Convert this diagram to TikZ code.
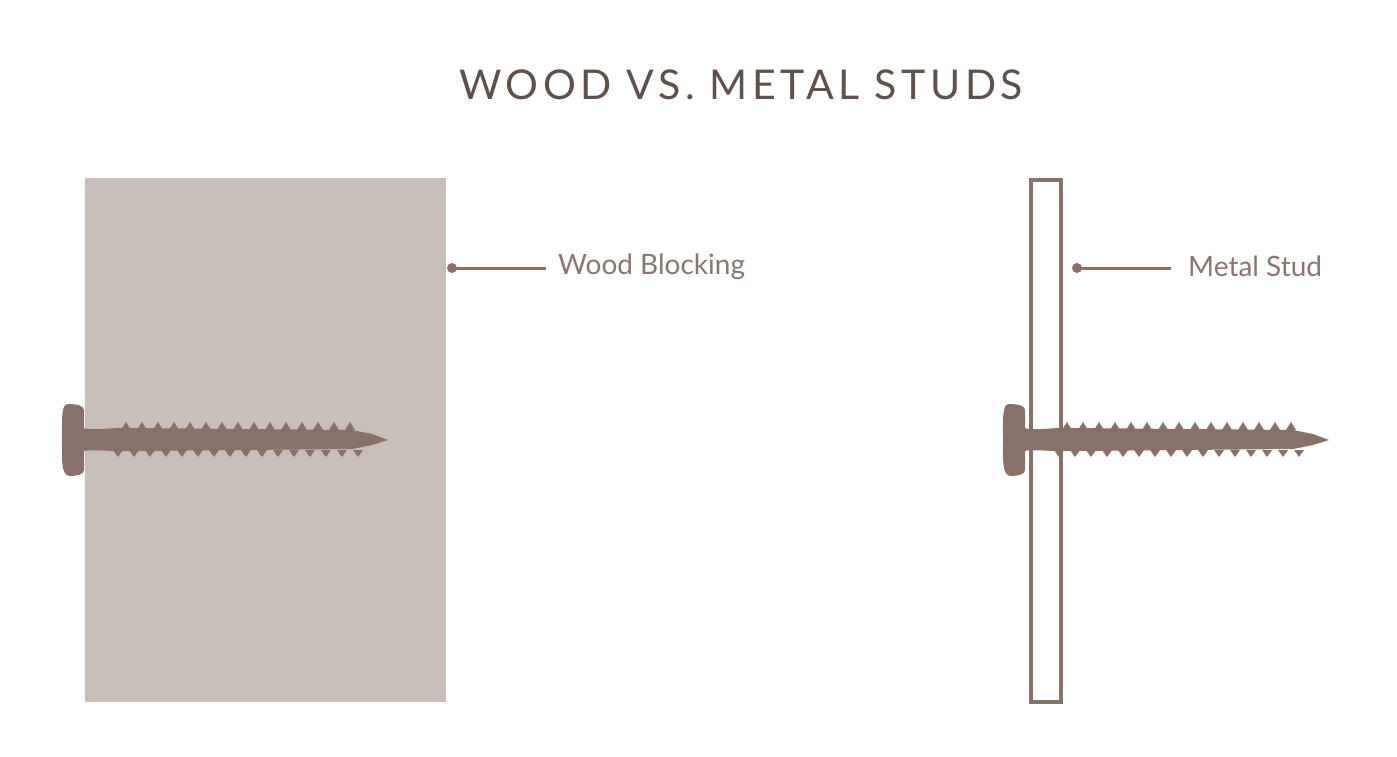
\documentclass[tikz,border=0pt]{standalone}
\usepackage{fontspec}
\setmainfont{Lato}
\definecolor{wood}{HTML}{C7BEB9}
\definecolor{scr}{HTML}{877169}
\definecolor{ttl}{HTML}{5E504A}
\definecolor{lbl}{HTML}{8A7670}
\tikzset{
  lead/.style={draw=scr,line width=3pt},
  lbltext/.style={anchor=west,text=lbl,font=\fontsize{28}{31}\selectfont,inner sep=0pt},
  screw/.pic={
    \fill[scr] (6,-36) .. controls (-1,-36) and (0,-20) .. (0,0) .. controls (0,20) and (-1,36) .. (8,36)
      .. controls (16,36) and (22,34) .. (22,30) -- (22,-30) .. controls (22,-34) and (16,-36) .. (6,-36) -- cycle;
    \fill[scr] (20,-12) .. controls (35,-9) and (50,-13) .. (70,-12) -- (290,-10) -- (310,-6) -- (326,0) -- (310,5) -- (290,9) -- (70,11) .. controls (50,12) and (35,9) .. (20,11) -- cycle;
    \foreach \x in {56,72,...,296}{\fill[scr] (\x-5,10) -- (\x,17) -- (\x+5,10) -- cycle;}
    \foreach \x in {64,80,...,290}{\fill[scr] (\x-5,-10) -- (\x,-18) -- (\x+5,-10) -- cycle;}
  }
}
\begin{document}
\begin{tikzpicture}[x=1pt,y=-1pt]
\useasboundingbox (0,0) rectangle (1397,756);
\node[text=ttl,font=\addfontfeatures{LetterSpace=11}\fontsize{41}{45}\selectfont,inner sep=0pt] (title) at (741,85) {WOOD VS. METAL STUDS};
\fill[wood] (85,178) rectangle (446,702);
\node[coordinate] (wb) at (452,268) {};
\node[coordinate] (we) at (546,268) {};
\node[lbltext] (wl) at (558,267) {Wood Blocking};
\fill[scr] (wb) circle (5);
\draw[lead] (wb) -- (we);
\pic at (62,440) {screw};
\draw[scr,line width=4pt] (1031,180) rectangle (1061,702);
\pic at (1003,440) {screw};
\node[coordinate] (ms) at (1077,268) {};
\node[coordinate] (me) at (1171,268) {};
\node[lbltext] (ml) at (1188,266) {Metal Stud};
\fill[scr] (ms) circle (5);
\draw[lead] (ms) -- (me);
\end{tikzpicture}
\end{document}
